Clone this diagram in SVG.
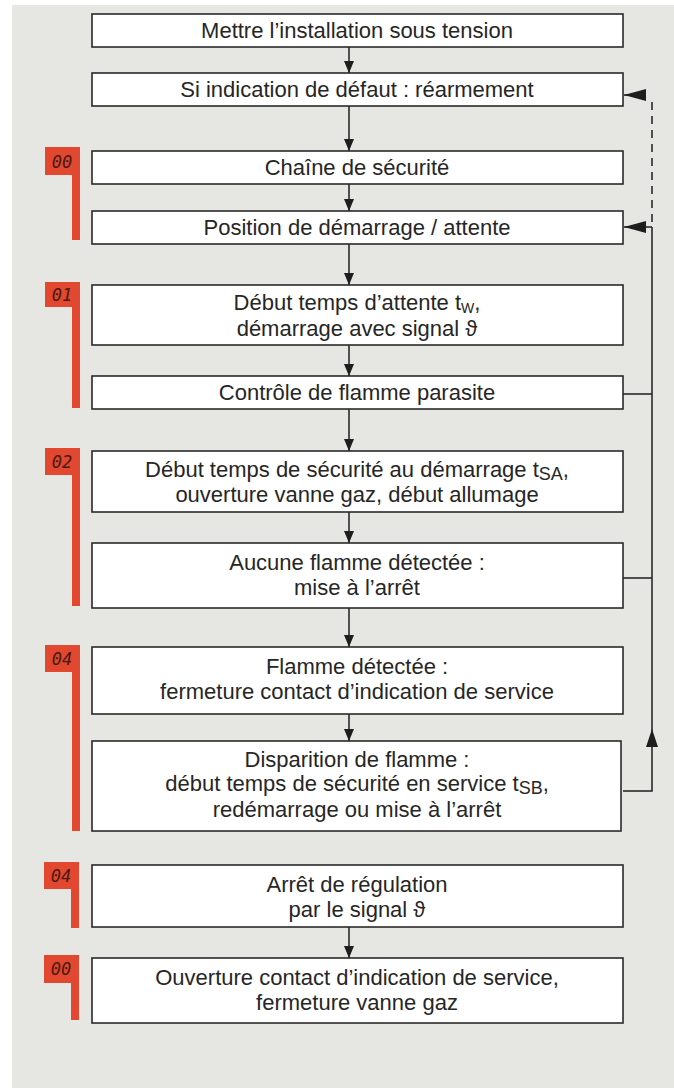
<svg xmlns="http://www.w3.org/2000/svg" width="674" height="1088" viewBox="0 0 674 1088">
<defs>
<marker id="ah" markerWidth="12" markerHeight="10" refX="12" refY="5" orient="auto" markerUnits="userSpaceOnUse">
<path d="M0,0 L12,5 L0,10 Z" fill="#1e1e1e"/>
</marker>
<marker id="ahw" markerWidth="22" markerHeight="12" refX="22" refY="6" orient="auto" markerUnits="userSpaceOnUse">
<path d="M0,0 L22,6 L0,12 Z" fill="#1e1e1e"/>
</marker>
<style>
.box{fill:#ffffff;stroke:#2a2a2a;stroke-width:1.6}
.t{font-family:"Liberation Sans",Arial,sans-serif;font-size:22px;fill:#262626;text-anchor:middle}
.sub{font-size:14px}
.sub2{font-size:18px}
.flag{fill:#e2482f}
.dig{font-family:"DejaVu Sans Mono","Liberation Mono",monospace;font-style:italic;font-size:17px;fill:#4a1a12;text-anchor:middle}
.c{fill:none;stroke:#1e1e1e;stroke-width:1.5}
</style>
</defs>
<rect x="0" y="0" width="674" height="1088" fill="#ffffff"/>
<rect x="12" y="5" width="662" height="1083" fill="#e6e6e2"/>

<g id="flags">
<g id="flag1"><rect class="flag" x="45" y="147" width="35" height="28"/><rect class="flag" x="72" y="147" width="8" height="93"/><text class="dig" x="62" y="168">00</text></g>
<g id="flag2"><rect class="flag" x="45" y="282" width="35" height="25"/><rect class="flag" x="72" y="282" width="8" height="126"/><text class="dig" x="62" y="301">01</text></g>
<g id="flag3"><rect class="flag" x="45" y="448" width="35" height="27"/><rect class="flag" x="72" y="448" width="8" height="158"/><text class="dig" x="62" y="468">02</text></g>
<g id="flag4"><rect class="flag" x="45" y="645" width="35" height="27"/><rect class="flag" x="72" y="645" width="8" height="186"/><text class="dig" x="62" y="665">04</text></g>
<g id="flag5"><rect class="flag" x="44" y="862" width="35" height="27"/><rect class="flag" x="71" y="862" width="8" height="66"/><text class="dig" x="61" y="882">04</text></g>
<g id="flag6"><rect class="flag" x="44" y="955" width="35" height="28"/><rect class="flag" x="71" y="955" width="8" height="65"/><text class="dig" x="61" y="975">00</text></g>
</g>

<g id="connectors">
<line class="c" x1="349" y1="47" x2="349" y2="73" marker-end="url(#ah)"/>
<line class="c" x1="349" y1="106" x2="349" y2="151" marker-end="url(#ah)"/>
<line class="c" x1="349" y1="184" x2="349" y2="211" marker-end="url(#ah)"/>
<line class="c" x1="349" y1="244" x2="349" y2="285" marker-end="url(#ah)"/>
<line class="c" x1="349" y1="345" x2="349" y2="376" marker-end="url(#ah)"/>
<line class="c" x1="349" y1="409" x2="349" y2="451" marker-end="url(#ah)"/>
<line class="c" x1="349" y1="512" x2="349" y2="543" marker-end="url(#ah)"/>
<line class="c" x1="349" y1="608" x2="349" y2="647" marker-end="url(#ah)"/>
<line class="c" x1="349" y1="714" x2="349" y2="741" marker-end="url(#ah)"/>
<line class="c" x1="349" y1="927" x2="349" y2="958" marker-end="url(#ah)"/>
<line class="c" x1="652" y1="222" x2="652" y2="100" stroke-dasharray="8 6"/>
<line class="c" x1="645" y1="95" x2="624" y2="95" marker-end="url(#ahw)"/>
<line class="c" x1="652" y1="227" x2="624" y2="227" marker-end="url(#ahw)"/>
<line class="c" x1="623" y1="394" x2="652" y2="394"/>
<line class="c" x1="623" y1="578" x2="652" y2="578"/>
<polyline class="c" points="623,791 652,791 652,227"/>
<path d="M646,747 L652,729 L658,747 Z" fill="#1e1e1e"/>
</g>

<g id="n1"><rect class="box" x="92" y="14" width="531" height="33"/><text class="t" x="357" y="38">Mettre l’installation sous tension</text></g>
<g id="n2"><rect class="box" x="92" y="73" width="531" height="33"/><text class="t" x="357" y="97">Si indication de défaut : réarmement</text></g>
<g id="n3"><rect class="box" x="92" y="151" width="531" height="33"/><text class="t" x="357" y="175">Chaîne de sécurité</text></g>
<g id="n4"><rect class="box" x="92" y="211" width="531" height="33"/><text class="t" x="357" y="235">Position de démarrage / attente</text></g>
<g id="n5"><rect class="box" x="92" y="285" width="531" height="60"/><text class="t" x="357" y="310">Début temps d’attente t<tspan class="sub" dy="3">W</tspan><tspan dy="-3">,</tspan></text><text class="t" x="357" y="336">démarrage avec signal ϑ</text></g>
<g id="n6"><rect class="box" x="92" y="376" width="531" height="33"/><text class="t" x="357" y="400">Contrôle de flamme parasite</text></g>
<g id="n7"><rect class="box" x="92" y="451" width="531" height="61"/><text class="t" x="357" y="477">Début temps de sécurité au démarrage t<tspan class="sub2" dy="3">SA</tspan><tspan dy="-3">,</tspan></text><text class="t" x="357" y="502">ouverture vanne gaz, début allumage</text></g>
<g id="n8"><rect class="box" x="92" y="543" width="531" height="65"/><text class="t" x="357" y="570">Aucune flamme détectée :</text><text class="t" x="357" y="595">mise à l’arrêt</text></g>
<g id="n9"><rect class="box" x="92" y="647" width="531" height="67"/><text class="t" x="357" y="674">Flamme détectée :</text><text class="t" x="357" y="699">fermeture contact d’indication de service</text></g>
<g id="n10"><rect class="box" x="92" y="741" width="529" height="90"/><text class="t" x="357" y="767">Disparition de flamme :</text><text class="t" x="357" y="791">début temps de sécurité en service t<tspan class="sub2" dy="3">SB</tspan><tspan dy="-3">,</tspan></text><text class="t" x="357" y="817">redémarrage ou mise à l’arrêt</text></g>
<g id="n11"><rect class="box" x="92" y="865" width="531" height="62"/><text class="t" x="357" y="892">Arrêt de régulation</text><text class="t" x="357" y="917">par le signal ϑ</text></g>
<g id="n12"><rect class="box" x="92" y="958" width="531" height="65"/><text class="t" x="357" y="985">Ouverture contact d’indication de service,</text><text class="t" x="357" y="1010">fermeture vanne gaz</text></g>
</svg>
